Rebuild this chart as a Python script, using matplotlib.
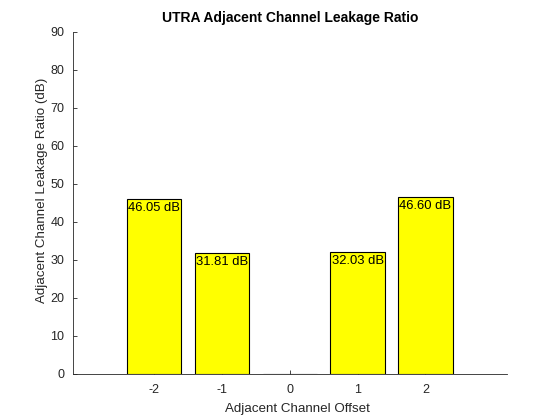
import matplotlib
matplotlib.use("Agg")
import matplotlib.pyplot as plt

offsets = [-2, -1, 0, 1, 2]
tick_labels = ["-2", "-1", "0", "1", "2"]
aclr_db = [46.05, 31.81, 0.0, 32.03, 46.60]
labels = ["46.05 dB", "31.81 dB", "", "32.03 dB", "46.60 dB"]

plt.rcParams['font.family'] = ['Liberation Sans', 'DejaVu Sans']
plt.rcParams['axes.unicode_minus'] = False
gray = '#262626'

fig = plt.figure(figsize=(5.6, 4.2), dpi=100)
ax = fig.add_axes([0.13, 0.11, 0.775, 0.815])
bars = ax.bar(offsets, aclr_db, width=0.8, color='#ffff00', edgecolor='black', linewidth=0.8, zorder=2)
for x, v, lab in zip(offsets, aclr_db, labels):
    if lab:
        ax.text(x, v - 0.9, lab, ha='center', va='top', fontsize=9.4, color='black', zorder=3)

ax.set_xlim(-3.2, 3.2)
ax.set_ylim(0, 90)
ax.set_xticks(offsets)
ax.set_xticklabels(tick_labels)
ax.set_yticks(range(0, 91, 10))
ax.tick_params(direction='in', length=3, width=0.6, colors=gray, labelsize=9)
ax.tick_params(axis='x', pad=7)
ax.tick_params(axis='y', pad=6)
for s in ['top', 'right']:
    ax.spines[s].set_visible(False)
for s in ['left', 'bottom']:
    ax.spines[s].set_color(gray)
    ax.spines[s].set_linewidth(0.6)
ax.set_xlabel('Adjacent Channel Offset', fontsize=9.6, color=gray)
ax.set_ylabel('Adjacent Channel Leakage Ratio (dB)', fontsize=9.6, color=gray)
ax.xaxis.set_label_coords(0.517, -0.085)
ax.yaxis.set_label_coords(-0.057, 0.536)
ax.set_title('UTRA Adjacent Channel Leakage Ratio', fontsize=10, fontweight='bold', color='black', pad=7)

fig.savefig('out.png', dpi=100)
